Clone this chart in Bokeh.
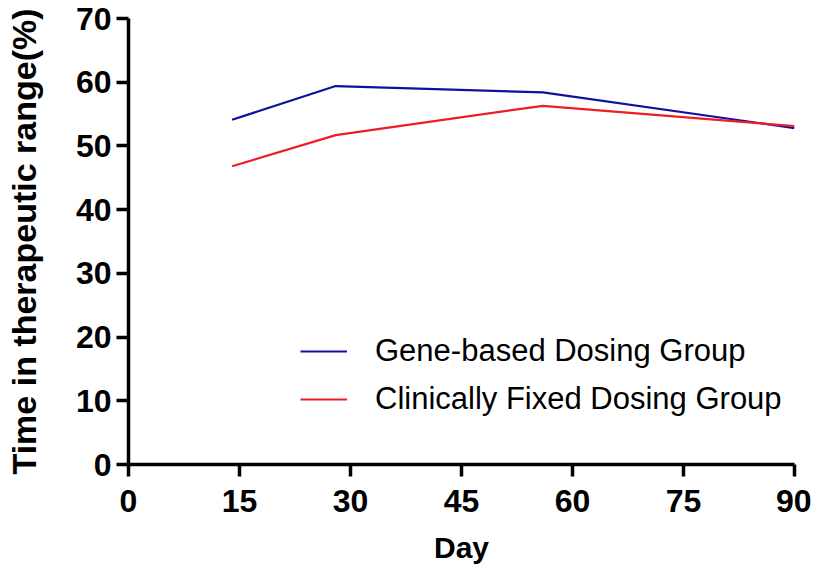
from bokeh.plotting import figure
from bokeh.models import Legend, LegendItem, FixedTicker, Range1d
from bokeh.embed import file_html
from bokeh.resources import INLINE

days = [14, 28, 56, 90]
gene_based = [54.1, 59.4, 58.4, 52.8]
clinically_fixed = [46.8, 51.7, 56.3, 53.1]
x_ticks = [0, 15, 30, 45, 60, 75, 90]
y_ticks = [0, 10, 20, 30, 40, 50, 60, 70]
series_names = ["Gene-based Dosing Group", "Clinically Fixed Dosing Group"]

FONT = "Liberation Sans"

p = figure(width=811, height=566, x_range=Range1d(0, 90), y_range=Range1d(0, 70),
           output_backend="svg", toolbar_location=None,
           min_border_left=128, min_border_right=17, min_border_top=18, min_border_bottom=99)
p.outline_line_color = None
p.xgrid.visible = False
p.ygrid.visible = False
p.background_fill_color = "white"

r1 = p.line(days, gene_based, line_color="#1010A0", line_width=2.2)
r2 = p.line(days, clinically_fixed, line_color="#EE1C24", line_width=2.2)

for ax in (p.xaxis[0], p.yaxis[0]):
    ax.axis_line_width = 3.5
    ax.axis_line_color = "black"
    ax.major_tick_line_width = 3.5
    ax.major_tick_line_color = "black"
    ax.major_tick_out = 12
    ax.major_tick_in = 0
    ax.minor_tick_out = 0
    ax.minor_tick_in = 0
    ax.major_label_text_font = FONT
    ax.major_label_text_font_style = "bold"
    ax.major_label_text_font_size = "32px"
    ax.major_label_text_color = "black"
    ax.axis_label_text_font = FONT
    ax.axis_label_text_font_style = "bold"
    ax.axis_label_text_color = "black"

p.xaxis.ticker = FixedTicker(ticks=x_ticks)
p.yaxis.ticker = FixedTicker(ticks=y_ticks)
p.xaxis.axis_label = "Day"
p.yaxis.axis_label = "Time in therapeutic range(%)"
p.xaxis.axis_label_text_font_size = "30px"
p.yaxis.axis_label_text_font_size = "34px"
p.xaxis.major_label_standoff = 13
p.yaxis.major_label_standoff = 5
p.xaxis.axis_label_standoff = 16
p.yaxis.axis_label_standoff = 30

legend = Legend(items=[LegendItem(label=series_names[0], renderers=[r1]),
                       LegendItem(label=series_names[1], renderers=[r2])],
                location=(172, 46))
legend.border_line_color = None
legend.background_fill_alpha = 0
legend.padding = 0
legend.margin = 0
legend.spacing = 10
legend.glyph_width = 47
legend.glyph_height = 38
legend.label_height = 38
legend.label_standoff = 28
legend.label_text_font = FONT
legend.label_text_font_size = "31px"
legend.label_text_color = "black"
p.add_layout(legend, "center")

open("out.html", "w").write(file_html(p, INLINE))
